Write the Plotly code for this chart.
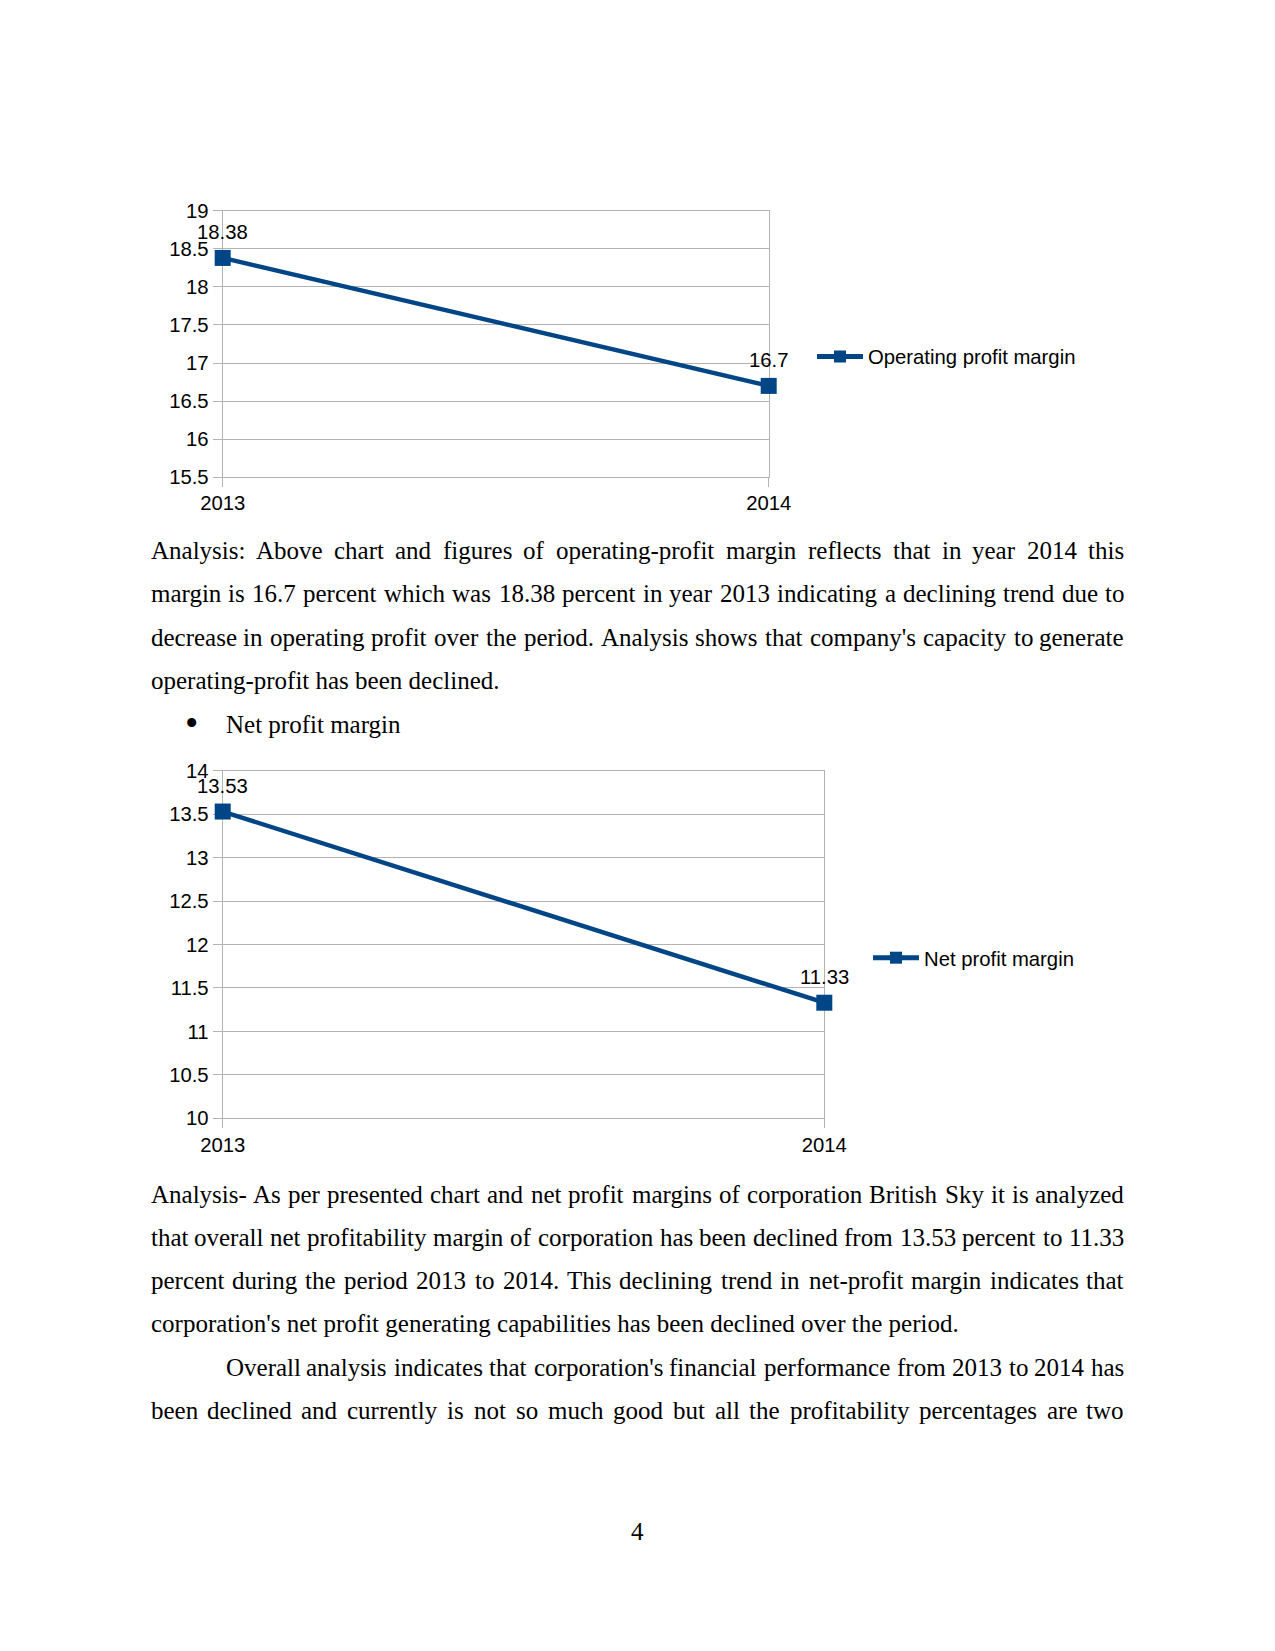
import plotly.graph_objects as go

# ---------------- data ----------------
years = ["2013", "2014"]
operating_margin = [18.38, 16.7]
net_margin = [13.53, 11.33]
op_ticks = [15.5, 16, 16.5, 17, 17.5, 18, 18.5, 19]
net_ticks = [10, 10.5, 11, 11.5, 12, 12.5, 13, 13.5, 14]
op_name = "Operating profit margin"
net_name = "Net profit margin"

para1 = [
    "Analysis: Above chart and figures of operating-profit margin reflects that in year 2014 this",
    "margin is 16.7 percent which was 18.38 percent in year 2013 indicating a declining trend due to",
    "decrease in operating profit over the period. Analysis shows that company's capacity to generate",
    "operating-profit has been declined.",
]
bullet_text = "Net profit margin"
para2 = [
    "Analysis- As per presented chart and net profit margins of corporation British Sky it is analyzed",
    "that overall net profitability margin of corporation has been declined from 13.53 percent to 11.33",
    "percent during the period 2013 to 2014. This declining trend in net-profit margin indicates that",
    "corporation's net profit generating capabilities has been declined over the period.",
]
para3 = [
    "Overall analysis indicates that corporation's financial performance from 2013 to 2014 has",
    "been declined and currently is not so much good but all the profitability percentages are two",
]
page_number = "4"

# ---------------- page geometry ----------------
PAGE_W, PAGE_H = 1275, 1651
BODY = 8  # default body margin of the html page
FIG_W, FIG_H = PAGE_W - 2 * BODY, PAGE_H - 2 * BODY - 4


def px(x):
    return (x - BODY) / FIG_W


def py(y):
    return 1 - (y - BODY) / FIG_H


BLUE = "#004586"
GRID = "#b3b3b3"
SANS = "Liberation Sans"
SERIF = "Liberation Serif"
CH_FS = 20.3
TX_FS = 25

fig = go.Figure()

fig.add_trace(go.Scatter(
    x=years, y=operating_margin, name=op_name, mode="lines+markers",
    line=dict(color=BLUE, width=4.5), marker=dict(symbol="square", size=16, color=BLUE),
    cliponaxis=False, xaxis="x", yaxis="y", legend="legend"))

fig.add_trace(go.Scatter(
    x=years, y=net_margin, name=net_name, mode="lines+markers",
    line=dict(color=BLUE, width=4.5), marker=dict(symbol="square", size=16, color=BLUE),
    cliponaxis=False, xaxis="x2", yaxis="y2", legend="legend2"))

axis_common = dict(showgrid=True, gridcolor=GRID, gridwidth=1, showline=True, linecolor=GRID,
                   linewidth=1, mirror=True, ticks="outside", ticklen=9, tickcolor=GRID,
                   tickwidth=1, zeroline=False, layer="below traces", automargin=False,
                   tickfont=dict(family=SANS, size=CH_FS, color="#000"))

fig.update_layout(
    width=FIG_W, height=FIG_H, autosize=False,
    margin=dict(l=0, r=0, t=0, b=0, pad=0, autoexpand=False),
    paper_bgcolor="white", plot_bgcolor="white",
    xaxis=dict(domain=[px(222.7), px(768.7)], type="category", range=[0, 1],
               anchor="y", ticklabelstandoff=-2, **axis_common),
    yaxis=dict(domain=[py(477.3), py(210.7)], range=[15.5, 19], tickvals=op_ticks,
               anchor="x", **axis_common),
    xaxis2=dict(domain=[px(222.7), px(824.3)], type="category", range=[0, 1],
                anchor="y2", ticklabelstandoff=-1, **axis_common),
    yaxis2=dict(domain=[py(1118.3), py(770.7)], range=[10, 14], tickvals=net_ticks,
                anchor="x2", **axis_common),
    legend=dict(x=px(812), y=py(356.8), xanchor="left", yanchor="middle",
                font=dict(family=SANS, size=CH_FS, color="#000"), itemwidth=46,
                itemsizing="constant", bgcolor="rgba(0,0,0,0)"),
    legend2=dict(x=px(868), y=py(958), xanchor="left", yanchor="middle",
                 font=dict(family=SANS, size=CH_FS, color="#000"), itemwidth=46,
                 itemsizing="constant", bgcolor="rgba(0,0,0,0)"),
    showlegend=True,
)

annotations = []

# data labels, placed through the data axes (category index, value)
for xa, ya, vals in (("x", "y", operating_margin), ("x2", "y2", net_margin)):
    for idx, v in enumerate(vals):
        annotations.append(dict(x=idx, y=v, xref=xa, yref=ya, text=f"{v:g}", showarrow=False,
                                xanchor="center", yanchor="middle", yshift=26, borderpad=0,
                                font=dict(family=SANS, size=CH_FS, color="#000")))

# ---------------- body text (justified with Times metrics) ----------------
W = {' ': 250, '!': 333, '"': 408, '#': 500, '$': 500, '%': 833, '&': 778, "'": 180, '(': 333,
     ')': 333, '*': 500, '+': 564, ',': 250, '-': 333, '.': 250, '/': 278, ':': 278, ';': 278,
     '?': 444, 'A': 722, 'B': 667, 'C': 667, 'D': 722, 'E': 611, 'F': 556, 'G': 722, 'H': 722,
     'I': 333, 'J': 389, 'K': 722, 'L': 611, 'M': 889, 'N': 722, 'O': 722, 'P': 556, 'Q': 722,
     'R': 667, 'S': 556, 'T': 611, 'U': 722, 'V': 722, 'W': 944, 'X': 722, 'Y': 722, 'Z': 611,
     'a': 444, 'b': 500, 'c': 444, 'd': 500, 'e': 444, 'f': 333, 'g': 500, 'h': 500, 'i': 278,
     'j': 278, 'k': 500, 'l': 278, 'm': 778, 'n': 500, 'o': 500, 'p': 500, 'q': 500, 'r': 333,
     's': 389, 't': 278, 'u': 500, 'v': 500, 'w': 722, 'x': 500, 'y': 500, 'z': 444}
for d in "0123456789":
    W[d] = 500


def tw(s):
    return sum(W.get(c, 500) for c in s) * TX_FS / 1000.0


def add_text(x, y, text, anchor="left", size=TX_FS):
    annotations.append(dict(x=px(x), y=py(y), xref="paper", yref="paper", text=text,
                            showarrow=False, xanchor=anchor, yanchor="middle", borderpad=0,
                            font=dict(family=SERIF, size=size, color="#000")))


def add_line(text, y, left=150.0, right=1125.0, justify=True):
    if not justify:
        add_text(left, y, text)
        return
    words = text.split(" ")
    widths = [tw(w) for w in words]
    gap = (right - left - sum(widths)) / (len(words) - 1)
    x = left
    last = len(words) - 1
    for i, w in enumerate(words):
        if i == 0:
            add_text(x, y, w, anchor="left")
        elif i == last:
            add_text(right, y, w, anchor="right")
        else:
            add_text(x + widths[i] / 2.0, y, w, anchor="center")
        x += widths[i] + gap


LS = 43.3
y0 = 550.6
for i, line in enumerate(para1):
    add_line(line, y0 + i * LS, justify=(i < len(para1) - 1))

add_text(191.6, 723.0, "•", anchor="center", size=38)
add_text(225, 724.3, bullet_text)

y1 = 1194.0
for i, line in enumerate(para2):
    add_line(line, y1 + i * LS, justify=(i < len(para2) - 1))

y2 = y1 + 4 * LS
add_line(para3[0], y2, left=225.0)
add_line(para3[1], y2 + LS)

add_text(637.5, 1531.5, page_number, anchor="center")

fig.update_layout(annotations=annotations)

fig.write_html("out.html")
